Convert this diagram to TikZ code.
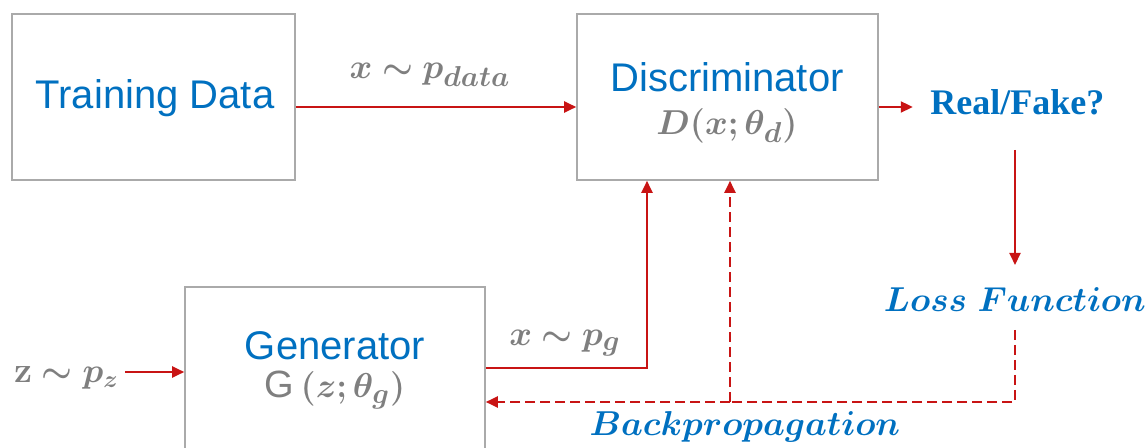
\documentclass[tikz,border=0pt]{standalone}
\usepackage{fontspec}
\usepackage{amsmath,bm}
\newfontfamily\arialf{Liberation Sans}
\newfontfamily\timesf{Liberation Serif}
\usetikzlibrary{arrows.meta,calc}
\definecolor{ganred}{RGB}{200,20,20}
\definecolor{ganblue}{RGB}{0,112,192}
\definecolor{gangray}{RGB}{127,127,127}
\definecolor{boxgray}{RGB}{170,170,170}
\tikzset{
  blockbox/.style={draw=boxgray, line width=0.8pt, inner sep=0pt},
  titletext/.style={font=\arialf\fontsize{20}{24}\selectfont, text=ganblue, inner sep=0pt},
  mathtext/.style={text=gangray, inner sep=0pt, font=\fontsize{19}{23}\selectfont},
  bluelabel/.style={text=ganblue, inner sep=0pt},
  flow/.style={draw=ganred, line width=1pt, -{Triangle[length=6pt,width=5.5pt]}},
  backflow/.style={draw=ganred, line width=1pt, dash pattern=on 5pt off 2.5pt},
}
\begin{document}
\begin{tikzpicture}[x=0.5pt,y=-0.5pt]
\useasboundingbox (0,0) rectangle (1146,448);
\clip (0,0) rectangle (1146,448);
% boxes
\node[blockbox, minimum width=141.5pt, minimum height=83pt] (train) at (153.5,97) {};
\node[blockbox, minimum width=150.5pt, minimum height=83pt] (disc) at (727.5,97) {};
\node[blockbox, minimum width=150pt, minimum height=90pt] (gen) at (335,377) {};
% texts
\node[titletext] (traintxt) at (155,98) {Training Data};
\node[titletext] (disctxt) at (727,77) {Discriminator};
\node[mathtext] (dfun) at (727,126) {$\bm{D(x;\theta_d)}$};
\node[titletext] (gentxt) at (335,346) {Generator};
\node[mathtext] (gfun) at (335,390) {\arialf G\,$\bm{(z;\theta_g)}$};
\node[mathtext] (pdata) at (430,75) {$\bm{x\sim p_{data}}$};
\node[mathtext] (pg) at (565,343) {$\bm{x\sim p_{g}}$};
\node[mathtext, anchor=west, font=\fontsize{18}{22}\selectfont] (pz) at (14,378) {$\textbf{z}\bm{\sim p_{z}}$};
\node[bluelabel, font=\timesf\bfseries\fontsize{18}{22}\selectfont, anchor=west] (rf) at (930,102) {Real/Fake?};
\node[bluelabel, font=\fontsize{17.5}{21}\selectfont] (loss) at (1015,300) {$\bm{Loss\ Function}$};
\node[bluelabel, font=\fontsize{17.5}{21}\selectfont] (bp) at (745,427) {$\bm{Backpropagation}$};
% coordinates
\coordinate (rfdown) at (1015,150);
\coordinate (lossdown) at (1015,330);
\coordinate (bpcorner) at (1015,402);
\coordinate (bpsplit) at (730,402);
\coordinate (pgcorner) at (647,368);
\coordinate (pzstart) at (125,372);
\coordinate (lossin) at (1015,265);
% connectors
\draw[flow] ([yshift=-5pt]train.east) -- ([yshift=-5pt]disc.west);
\draw[flow] ([yshift=-5pt]disc.east) -- ++(17pt,0);
\draw[flow] (rfdown) -- (lossin);
\draw[flow] (gen.east |- pgcorner) -- (pgcorner) -- (pgcorner |- disc.south);
\draw[backflow] (lossdown) -- (bpcorner) -- (bpsplit);
\draw[backflow, -{Triangle[length=6pt,width=5.5pt]}] (bpsplit) -- (gen.east |- bpsplit);
\draw[backflow, -{Triangle[length=6pt,width=5.5pt]}] (bpsplit) -- (bpsplit |- disc.south);
\draw[flow] (pzstart) -- (gen.west |- pzstart);
\end{tikzpicture}
\end{document}
